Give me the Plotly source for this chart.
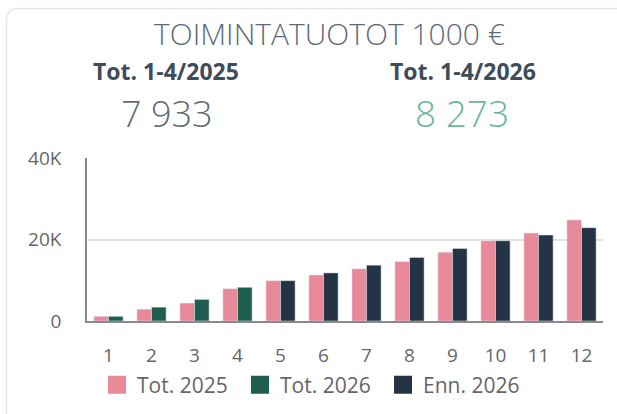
import plotly.graph_objects as go

# ---- data ----
months = [1, 2, 3, 4, 5, 6, 7, 8, 9, 10, 11, 12]
tot_2025 = [1150, 2900, 4400, 7933, 9900, 11300, 12800, 14600, 16900, 19700, 21600, 24800]
tot_2026_months = [1, 2, 3, 4]
tot_2026 = [1150, 3400, 5300, 8273]
enn_2026_months = [5, 6, 7, 8, 9, 10, 11, 12]
enn_2026 = [9900, 11800, 13700, 15600, 17800, 19700, 21100, 22900]
y_tickvals = [0, 20000, 40000]
y_ticktext = ["0", "20K", "40K"]
title_text = "TOIMINTATUOTOT 1000 €"
kpi_labels = ["Tot. 1-4/2025", "Tot. 1-4/2026"]
kpi_values = ["7 933", "8 273"]

C_PINK = "#E8899A"
C_GREEN = "#1F5E4F"
C_NAVY = "#243444"
FONT = "Open Sans"

W, H = 617, 414
ML, MR, MT, MB = 87, 14, 158, 93
PW, PH = W - ML - MR, H - MT - MB


def px(x):
    return (x - ML) / PW


def py(y):
    return (H - MB - y) / PH


fig = go.Figure()
fig.add_trace(go.Bar(x=months, y=tot_2025, name="Tot. 2025", marker_color=C_PINK,
                     offsetgroup="a", showlegend=False))
fig.add_trace(go.Bar(x=tot_2026_months, y=tot_2026, name="Tot. 2026", marker_color=C_GREEN,
                     offsetgroup="b", showlegend=False))
fig.add_trace(go.Bar(x=enn_2026_months, y=enn_2026, name="Enn. 2026", marker_color=C_NAVY,
                     offsetgroup="b", showlegend=False))

# legend entries (square swatches)
for name, col in [("Tot. 2025", C_PINK), ("Tot. 2026", C_GREEN), ("Enn. 2026", C_NAVY)]:
    fig.add_trace(go.Scatter(x=[None], y=[None], mode="markers", name=name,
                             marker=dict(symbol="square", size=16, color=col,
                                         line=dict(color=col, width=2))))

annotations = [
    dict(text=title_text, x=px(329), y=py(34), font=dict(family=FONT, size=30, color="#5d6b78", weight=300)),
    dict(text=kpi_labels[0], x=px(166), y=py(71), font=dict(family=FONT, size=23, color="#3f4d5a", weight=700)),
    dict(text=kpi_labels[1], x=px(463), y=py(71), font=dict(family=FONT, size=23, color="#3f4d5a", weight=700)),
    dict(text=kpi_values[0], x=px(167), y=py(113), font=dict(family=FONT, size=36, color="#5f6b78", weight=300)),
    dict(text=kpi_values[1], x=px(462), y=py(112.5), font=dict(family=FONT, size=37, color="#6bb59b", weight=300)),
]
for a in annotations:
    a.update(xref="paper", yref="paper", xanchor="center", yanchor="middle", showarrow=False)

# card border
r = 12
L, T = 6.5, 8.5
path = (f"M {px(L)},{py(430)} L {px(L)},{py(T + r)} "
        f"Q {px(L)},{py(T)} {px(L + r)},{py(T)} L {px(630)},{py(T)}")

fig.update_layout(
    width=W, height=H,
    margin=dict(l=ML, r=MR, t=MT, b=MB, autoexpand=False),
    paper_bgcolor="white", plot_bgcolor="white",
    barmode="group", bargap=0.32, bargroupgap=0,
    font=dict(family=FONT, size=19, color="#666666"),
    annotations=annotations,
    shapes=[dict(type="path", path=path, xref="paper", yref="paper",
                 line=dict(color="#e6e6e6", width=1.5), layer="below")],
    legend=dict(orientation="h", x=px(97), y=py(385), xanchor="left", yanchor="middle",
                font=dict(family=FONT, size=21, color="#666666"),
                entrywidth=98, entrywidthmode="pixels", itemclick=False),
    xaxis=dict(range=[0.5, 12.5], tickmode="array", tickvals=months,
               ticktext=[str(m) for m in months], showgrid=False, zeroline=False,
               showline=True, linecolor="#8a8a8a", linewidth=1.5,
               ticks="", ticklabelstandoff=16, tickfont=dict(size=19)),
    yaxis=dict(range=[0, 40000], tickmode="array", tickvals=y_tickvals, ticktext=y_ticktext,
               showgrid=True, gridcolor="#e2e2e2", gridwidth=1.5, zeroline=False,
               showline=True, linecolor="#8a8a8a", linewidth=1.5,
               ticks="", ticklabelstandoff=20, tickfont=dict(size=19)),
)

fig.write_html("out.html", config={"displayModeBar": False},
               post_script="document.body.style.margin='0';document.body.style.overflow='hidden';")
